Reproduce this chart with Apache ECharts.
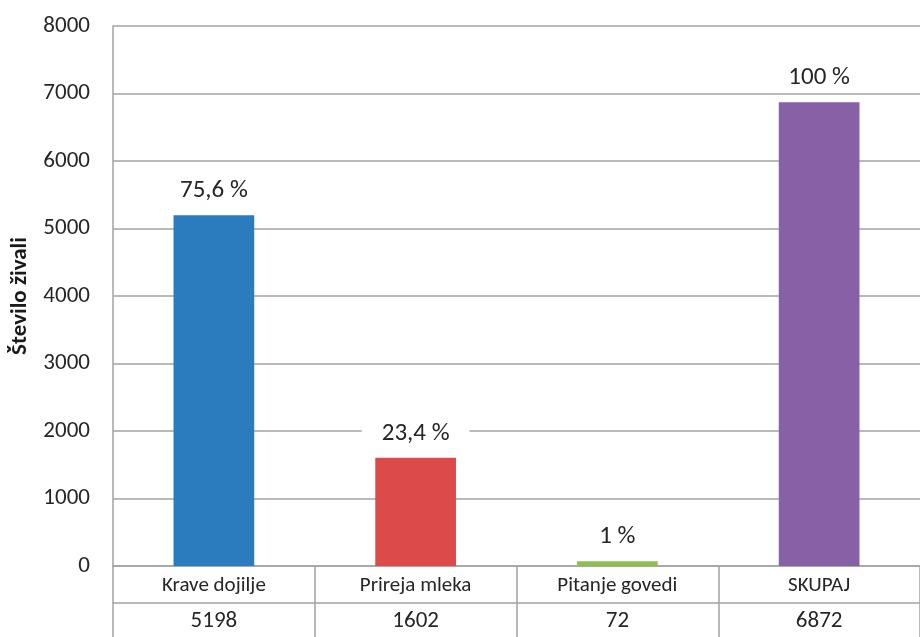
<!DOCTYPE html>
<html>
<head>
<meta charset="utf-8">
<script src="https://cdn.jsdelivr.net/npm/echarts@6/dist/echarts.min.js"></script>
<style>
  html, body { margin: 0; padding: 0; background: #fff; }
  #chart { width: 920px; height: 637px; }
</style>
</head>
<body>
<div id="chart"></div>
<script>
// Število živali po namenu reje
const categories = ['Krave dojilje', 'Prireja mleka', 'Pitanje govedi', 'SKUPAJ'];
const animalCounts = [5198, 1602, 72, 6872];
const shareLabels = ['75,6 %', '23,4 %', '1 %', '100 %'];
const barColors = ['#2B7CBF', '#DC4B49', '#8DBF4E', '#8761A6'];
const yTicks = [0, 1000, 2000, 3000, 4000, 5000, 6000, 7000, 8000];

const FONT = 'Carlito, Lato, "Liberation Sans", sans-serif';
const LINE = '#a3a3a3';
const TEXT = '#262626';

const chart = echarts.init(document.getElementById('chart'));
chart.setOption({
  animation: false,
  backgroundColor: '#ffffff',
  grid: { left: 113, right: 0, top: 26, bottom: 71, outerBoundsMode: 'none', containLabel: false },
  xAxis: [
    {
      type: 'category',
      data: categories,
      position: 'bottom',
      axisLine: { show: true, lineStyle: { color: LINE, width: 1.5 } },
      axisTick: { show: true, length: 71, inside: false, lineStyle: { color: LINE, width: 1.5 } },
      axisLabel: { fontFamily: FONT, fontSize: 21, color: TEXT, margin: 9 }
    },
    {
      type: 'category',
      data: animalCounts.map(String),
      position: 'bottom',
      offset: 37,
      axisLine: { show: true, lineStyle: { color: LINE, width: 1.5 } },
      axisTick: { show: false },
      axisLabel: { fontFamily: FONT, fontSize: 23, color: TEXT, margin: 7 }
    }
  ],
  yAxis: {
    type: 'value',
    min: yTicks[0],
    max: yTicks[yTicks.length - 1],
    interval: 1000,
    name: 'Število živali',
    nameLocation: 'middle',
    nameGap: 81,
    nameRotate: 90,
    nameTextStyle: { fontFamily: FONT, fontSize: 23, fontWeight: 'bold', color: '#1a1a1a' },
    axisLine: { show: true, lineStyle: { color: LINE, width: 1.5 } },
    axisTick: { show: false },
    axisLabel: {
      fontFamily: FONT, fontSize: 23, color: TEXT, margin: 23,
      formatter: v => String(v)
    },
    splitLine: { show: true, lineStyle: { color: LINE, width: 1.5 } }
  },
  series: [{
    type: 'bar',
    xAxisIndex: 0,
    barWidth: '40%',
    data: animalCounts.map((v, i) => ({ value: v, itemStyle: { color: barColors[i] } })),
    label: {
      show: true,
      position: 'top',
      distance: 10,
      formatter: p => shareLabels[p.dataIndex],
      fontFamily: FONT,
      fontSize: 25,
      color: TEXT,
      backgroundColor: '#ffffff',
      padding: [2, 20]
    }
  }]
});
</script>
</body>
</html>
